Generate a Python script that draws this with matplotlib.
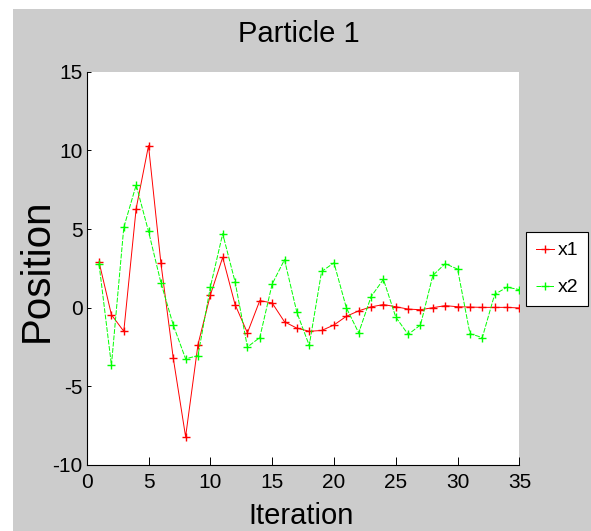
import matplotlib
matplotlib.use("Agg")
import matplotlib.pyplot as plt
from matplotlib.patches import Rectangle

plt.rcParams['font.family'] = ['Liberation Sans', 'DejaVu Sans']
plt.rcParams['axes.unicode_minus'] = False

iterations = list(range(1, 36))
x1 = [2.9, -0.45, -1.5, 6.3, 10.3, 2.85, -3.2, -8.2, -2.35, 0.8,
      3.2, 0.2, -1.6, 0.45, 0.3, -0.9, -1.3, -1.5, -1.45, -1.1,
      -0.55, -0.2, 0.05, 0.2, 0.06, -0.09, -0.13, 0.0, 0.13, 0.06,
      0.04, 0.02, 0.02, 0.02, -0.02]
x2 = [2.75, -3.65, 5.1, 7.8, 4.85, 1.6, -1.1, -3.25, -3.05, 1.3,
      4.7, 1.65, -2.5, -1.9, 1.5, 3.05, -0.3, -2.4, 2.3, 2.85,
      0.0, -1.6, 0.7, 1.8, -0.6, -1.7, -1.1, 2.05, 2.8, 2.45,
      -1.65, -1.9, 0.85, 1.3, 1.15]
xticks = [0, 5, 10, 15, 20, 25, 30, 35]
yticks = [-10, -5, 0, 5, 10, 15]

W, H = 591, 531
fig = plt.figure(figsize=(W / 100, H / 100), dpi=100, facecolor='white')
fig.patches.append(Rectangle((13 / W, 0), 1 - 13 / W, (H - 9) / H,
                             transform=fig.transFigure, facecolor='#cccccc',
                             edgecolor='none', zorder=-10))

ax = fig.add_axes([86.7 / W, (H - 465) / H, 432.7 / W, 393.3 / H])
ax.set_facecolor('white')
ax.plot(iterations, x1, color='#ff0000', lw=0.7, marker='+', ms=5.5, mew=1.0,
        label='x1')
ax.plot(iterations, x2, color='#00ff00', lw=0.7, ls=(0, (5, 1.5)), marker='+',
        ms=5.5, mew=1.0, label='x2')

ax.set_xlim(0, 35)
ax.set_ylim(-10, 15)
ax.set_xticks(xticks)
ax.set_yticks(yticks)
for s in ['top', 'right']:
    ax.spines[s].set_visible(False)
for s in ['left', 'bottom']:
    ax.spines[s].set_color('black')
    ax.spines[s].set_linewidth(0.8)
ax.tick_params(axis='x', direction='in', length=5.8, width=0.7, pad=6,
               labelsize=15, colors='black')
ax.tick_params(axis='y', direction='in', length=3.2, width=0.7, pad=3,
               labelsize=15, colors='black')

fig.text(299 / W, (H - 42) / H, 'Particle 1', ha='center', va='baseline',
         fontsize=21)
fig.text(301 / W, 1 / H, 'Iteration', ha='center', va='bottom', fontsize=21)
fig.text(37 / W, (H - 270) / H, 'Position', ha='center', va='center',
         rotation=90, fontsize=29)

leg = ax.legend(loc='upper left', bbox_to_anchor=(526 / W, (H - 232) / H),
                bbox_transform=fig.transFigure, borderaxespad=0,
                fontsize=14, numpoints=1, handlelength=0.95,
                handletextpad=0.2, borderpad=0.5, labelspacing=1.0,
                fancybox=False, framealpha=1, edgecolor='black')
leg.get_frame().set_linewidth(0.8)

fig.savefig('out.png', dpi=100, facecolor=fig.get_facecolor())
